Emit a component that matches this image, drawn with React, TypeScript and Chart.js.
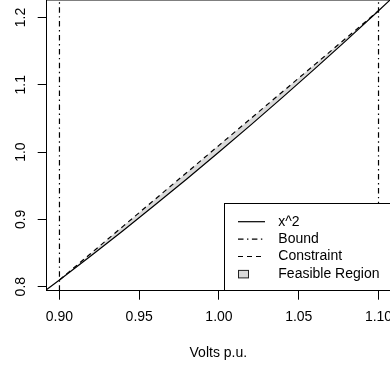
import { useEffect, useRef } from "react";
import { Chart, registerables } from "chart.js";

Chart.register(...registerables);

// ---- data ----
const curveX = [0.892, 0.9, 0.92, 0.94, 0.96, 0.98, 1.0, 1.02, 1.04, 1.06, 1.08, 1.1, 1.108];
const curveY = [0.7957, 0.81, 0.8464, 0.8836, 0.9216, 0.9604, 1.0, 1.0404, 1.0816, 1.1236, 1.1664, 1.21, 1.2277];
const regionX = [0.9, 0.92, 0.94, 0.96, 0.98, 1.0, 1.02, 1.04, 1.06, 1.08, 1.1];
const regionLow = [0.81, 0.8464, 0.8836, 0.9216, 0.9604, 1.0, 1.0404, 1.0816, 1.1236, 1.1664, 1.21];
const constraintY = [0.81, 0.85, 0.89, 0.93, 0.97, 1.01, 1.05, 1.09, 1.13, 1.17, 1.21];
const boundX = [0.9, 1.1];
const xRange = [0.892, 1.1072];
const yRange = [0.794, 1.226];
const xTicks = [0.9, 0.95, 1.0, 1.05, 1.1];
const xTickLabels = ["0.90", "0.95", "1.00", "1.05", "1.10"];
const yTicks = [0.8, 0.9, 1.0, 1.1, 1.2];
const yTickLabels = ["0.8", "0.9", "1.0", "1.1", "1.2"];
const legendLabels = ["x^2", "Bound", "Constraint", "Feasible Region"];
const xTitle = "Volts p.u.";

// ---- styles ----
const FONT = "'Liberation Sans', Arial, Helvetica, sans-serif";
const FILL = "#dadada";
const LW = 1.2;
const DASHED = [5, 4];
const DOTDASH = [5.5, 3.5, 1.4, 3.5];

const legendPlugin = {
  id: "rLegendFrame",
  afterDraw(chart: any) {
    const ctx: CanvasRenderingContext2D = chart.ctx;
    const a = chart.chartArea;
    ctx.save();
    ctx.strokeStyle = "#000";
    ctx.lineWidth = 1;
    // top frame of the plot box
    ctx.beginPath();
    ctx.moveTo(a.left, a.top);
    ctx.lineTo(a.right, a.top);
    ctx.stroke();

    // legend box (bottom-right, inside plot region)
    const bx = 224.5;
    const by = 203.5;
    const bb = Math.round(a.bottom - 0.5) + 0.5;
    ctx.fillStyle = "#fff";
    ctx.fillRect(bx, by, 200, bb - by);
    ctx.strokeRect(bx, by, 200, bb - by);

    const rows = [221.7, 239.1, 256.5, 273.9];
    const sx0 = 238;
    const sx1 = 265;
    const tx = 278.3;
    const dashes = [[], DOTDASH, DASHED];
    ctx.lineWidth = LW;
    for (let i = 0; i < 3; i++) {
      ctx.setLineDash(dashes[i]);
      ctx.beginPath();
      ctx.moveTo(sx0, rows[i]);
      ctx.lineTo(sx1, rows[i]);
      ctx.stroke();
    }
    ctx.setLineDash([]);
    ctx.lineWidth = 1;
    ctx.fillStyle = FILL;
    ctx.fillRect(238.5, rows[3] - 3.5, 10, 7.5);
    ctx.strokeStyle = "#222";
    ctx.strokeRect(238.5, rows[3] - 3.5, 10, 7.5);

    ctx.fillStyle = "#000";
    ctx.font = `14px ${FONT}`;
    ctx.textBaseline = "middle";
    ctx.textAlign = "left";
    legendLabels.forEach((t, i) => ctx.fillText(t, tx, rows[i]));
    ctx.restore();
  },
};

export default function App() {
  const ref = useRef<HTMLCanvasElement>(null);

  useEffect(() => {
    const canvas = ref.current;
    if (!canvas) return;
    const pts = (xs: number[], ys: number[]) => xs.map((x, i) => ({ x, y: ys[i] }));
    const chart = new Chart(canvas, {
      type: "line",
      data: {
        datasets: [
          {
            label: legendLabels[0],
            data: pts(curveX, curveY),
            borderColor: "#000",
            borderWidth: LW,
            pointRadius: 0,
            tension: 0,
            fill: false,
          },
          {
            label: legendLabels[2],
            data: pts(regionX, constraintY),
            borderColor: "#000",
            borderWidth: LW,
            borderDash: DASHED,
            pointRadius: 0,
            tension: 0,
            backgroundColor: FILL,
            fill: { target: 2 },
          },
          {
            label: legendLabels[3],
            data: pts(regionX, regionLow),
            borderColor: "rgba(0,0,0,0)",
            borderWidth: 0,
            pointRadius: 0,
            tension: 0,
            fill: false,
          },
          {
            label: legendLabels[1],
            data: pts([boundX[0], boundX[0]], yRange),
            borderColor: "#000",
            borderWidth: LW,
            borderDash: DOTDASH,
            pointRadius: 0,
            fill: false,
          },
          {
            label: legendLabels[1],
            data: pts([boundX[1], boundX[1]], yRange),
            borderColor: "#000",
            borderWidth: LW,
            borderDash: DOTDASH,
            pointRadius: 0,
            fill: false,
          },
        ],
      },
      options: {
        animation: false,
        responsive: false,
        devicePixelRatio: 1,
        layout: { padding: 0, autoPadding: false },
        plugins: {
          legend: { display: false },
          tooltip: { enabled: false },
          filler: { drawTime: "beforeDatasetsDraw" },
        },
        scales: {
          x: {
            type: "linear",
            position: "bottom",
            min: xRange[0],
            max: xRange[1],
            grid: { drawOnChartArea: false, drawTicks: true, tickLength: 9, color: "#000", lineWidth: 1 },
            border: { display: true, color: "#000", width: 1 },
            ticks: {
              autoSkip: false,
              minRotation: 0,
              maxRotation: 0,
              padding: 9,
              color: "#000",
              font: { family: FONT, size: 14 },
              callback: (_v: any, i: number) => xTickLabels[i],
            },
            title: {
              display: true,
              text: xTitle,
              color: "#000",
              font: { family: FONT, size: 14 },
              padding: { top: 0, bottom: 7.6 },
            },
            afterBuildTicks: (s: any) => {
              s.ticks = xTicks.map((v) => ({ value: v }));
            },
            afterFit: (s: any) => {
              s.height = 78.3;
              s.paddingLeft = 0;
              s.paddingRight = 0;
            },
          },
          y: {
            type: "linear",
            position: "left",
            min: yRange[0],
            max: yRange[1],
            grid: { drawOnChartArea: false, drawTicks: true, tickLength: 9, color: "#000", lineWidth: 1 },
            border: { display: true, color: "#000", width: 1 },
            ticks: {
              autoSkip: false,
              minRotation: 90,
              maxRotation: 90,
              crossAlign: "center",
              padding: 7.2,
              color: "#000",
              font: { family: FONT, size: 14 },
              callback: (_v: any, i: number) => yTickLabels[i],
            },
            afterBuildTicks: (s: any) => {
              s.ticks = yTicks.map((v) => ({ value: v }));
            },
            afterFit: (s: any) => {
              s.width = 46.7;
              s.paddingTop = 0;
              s.paddingBottom = 0;
            },
          },
        },
      } as any,
      plugins: [legendPlugin],
    });
    return () => chart.destroy();
  }, []);

  return (
    <div style={{ position: "absolute", left: 0, top: 0, width: 390, height: 369, background: "#fff" }}>
      <canvas ref={ref} width={390} height={369} style={{ display: "block", width: 390, height: 369 }} />
    </div>
  );
}
